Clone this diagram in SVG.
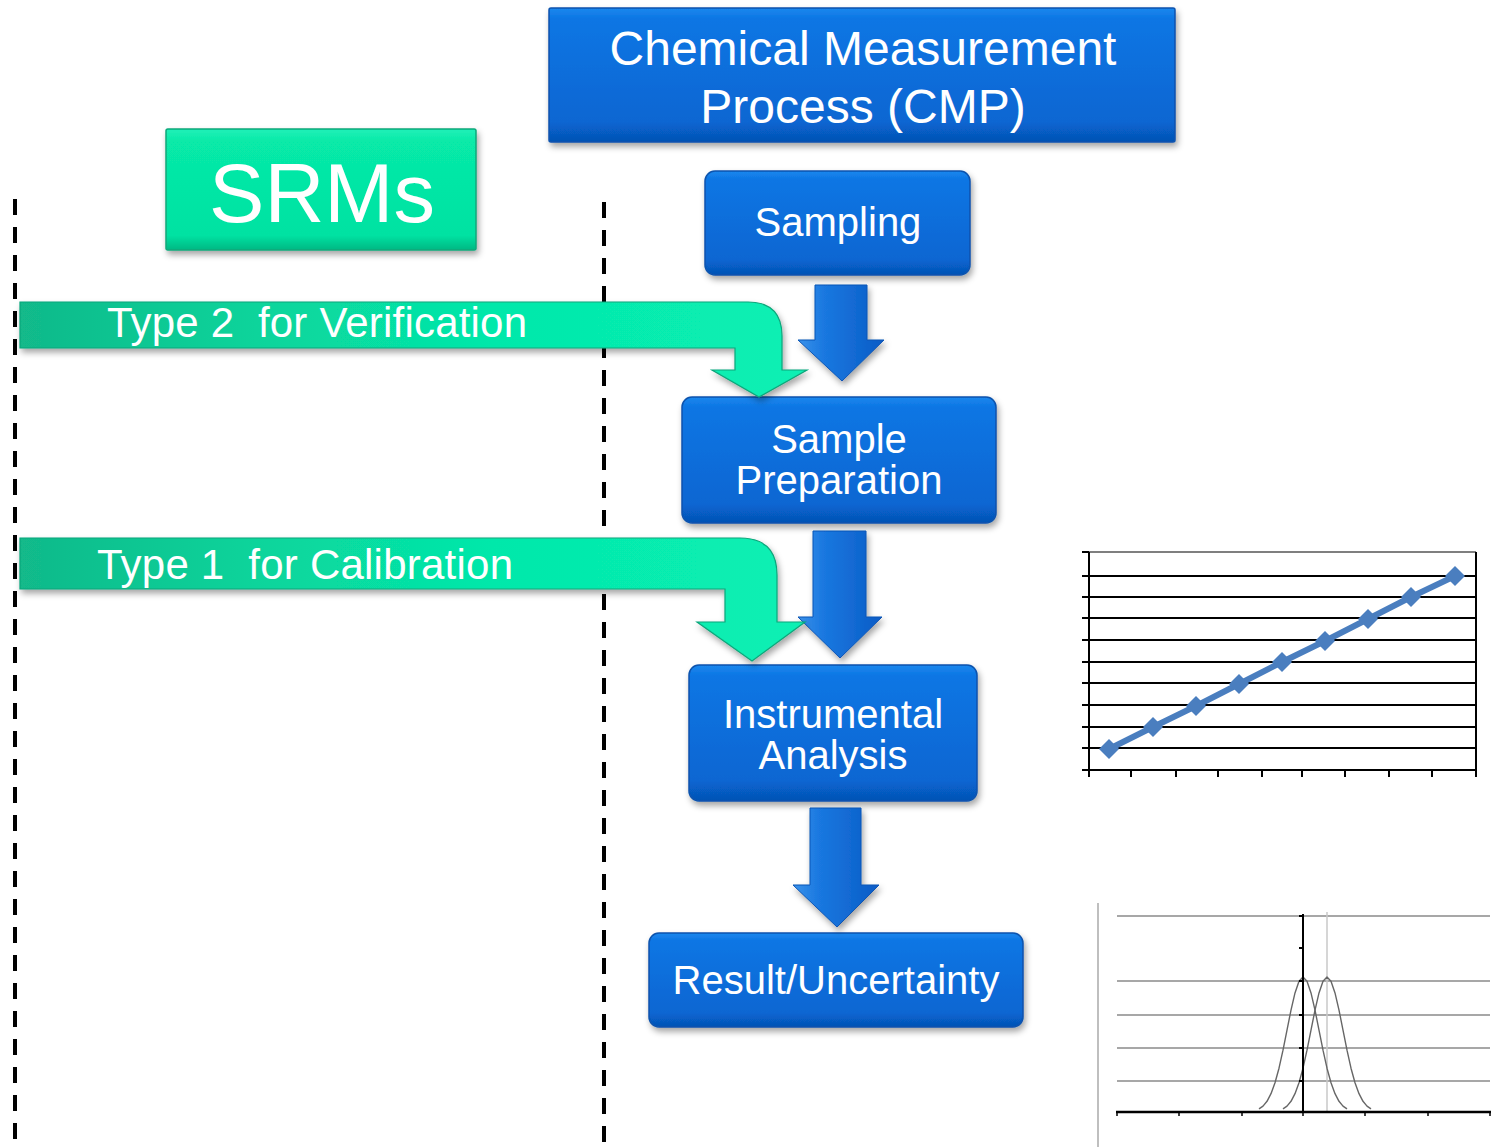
<svg xmlns="http://www.w3.org/2000/svg" width="1494" height="1147" viewBox="0 0 1494 1147">
<style>
.t{font-family:"Liberation Sans",Arial,sans-serif;fill:#ffffff;}
.c{text-anchor:middle;}
.box{stroke:#0b52ad;stroke-width:1.5;filter:url(#sh);}
.dash{stroke:#000;stroke-width:4;stroke-dasharray:16 12;fill:none;}
.grid{stroke:#000;stroke-width:2;}
.g2{stroke:#8a8a8a;stroke-width:1.3;}
</style>
<defs>
<linearGradient id="blue" x1="0" y1="0" x2="0" y2="1">
<stop offset="0" stop-color="#1c88ee"/>
<stop offset="0.08" stop-color="#0c76e4"/>
<stop offset="0.85" stop-color="#0866d2"/>
<stop offset="1" stop-color="#0552b4"/>
</linearGradient>
<linearGradient id="barrow" x1="0" y1="0" x2="1" y2="0">
<stop offset="0" stop-color="#3a92ea"/>
<stop offset="0.3" stop-color="#1a78e0"/>
<stop offset="1" stop-color="#0a5cc6"/>
</linearGradient>
<linearGradient id="green" x1="0" y1="0" x2="0" y2="1">
<stop offset="0" stop-color="#22f0b8"/>
<stop offset="0.1" stop-color="#07eaa8"/>
<stop offset="0.88" stop-color="#03e2a2"/>
<stop offset="1" stop-color="#05b883"/>
</linearGradient>
<linearGradient id="gbar" x1="0" y1="0" x2="1" y2="0">
<stop offset="0" stop-color="#12b98a"/>
<stop offset="0.3" stop-color="#08d49b"/>
<stop offset="0.6" stop-color="#05e8aa"/>
<stop offset="1" stop-color="#08f0b4"/>
</linearGradient>
<filter id="sh" x="-10%" y="-10%" width="125%" height="135%">
<feDropShadow dx="2" dy="4" stdDeviation="3" flood-color="#000" flood-opacity="0.35"/>
</filter>
</defs>
<rect width="1494" height="1147" fill="#ffffff"/>

<g id="dividers">
<line class="dash" x1="15" y1="199" x2="15" y2="1147"/>
<line class="dash" x1="604" y1="202" x2="604" y2="1142"/>
</g>

<g id="srms">
<rect x="166" y="129" width="310" height="121" rx="2" fill="url(#green)" stroke="#0aa87a" stroke-width="1.5" filter="url(#sh)"/>
<text class="t c" x="322" y="222" font-size="83">SRMs</text>
</g>

<g id="cmp">
<rect class="box" x="549" y="8" width="626" height="134" rx="2" fill="url(#blue)"/>
<text class="t c" x="863" y="65" font-size="48">Chemical Measurement</text>
<text class="t c" x="863" y="123" font-size="48">Process (CMP)</text>
</g>

<g id="sampling">
<rect class="box" x="705" y="171" width="265" height="104" rx="10" fill="url(#blue)"/>
<text class="t c" x="838" y="236" font-size="40">Sampling</text>
</g>

<g id="sample-preparation">
<rect class="box" x="682" y="397" width="314" height="126" rx="10" fill="url(#blue)"/>
<text class="t c" x="839" y="453" font-size="40">Sample</text>
<text class="t c" x="839" y="494" font-size="40">Preparation</text>
</g>

<g id="instrumental-analysis">
<rect class="box" x="689" y="665" width="288" height="136" rx="10" fill="url(#blue)"/>
<text class="t c" x="833" y="728" font-size="40">Instrumental</text>
<text class="t c" x="833" y="769" font-size="40">Analysis</text>
</g>

<g id="result-uncertainty">
<rect class="box" x="649" y="933" width="374" height="94" rx="10" fill="url(#blue)"/>
<text class="t c" x="836" y="994" font-size="40">Result/Uncertainty</text>
</g>

<g id="connectors">
<path d="M815,285 H867 V340 H884 L842,381 L798,340 H815 Z" fill="url(#barrow)" stroke="#0a55b5" stroke-width="1" filter="url(#sh)"/>
<path d="M813,531 H866 V617 H882 L840,658 L798,617 H813 Z" fill="url(#barrow)" stroke="#0a55b5" stroke-width="1" filter="url(#sh)"/>
<path d="M810,808 H861 V885 H879 L837,927 L793,885 H810 Z" fill="url(#barrow)" stroke="#0a55b5" stroke-width="1" filter="url(#sh)"/>
<g id="type2-arrow">
<path d="M20,302 H748 Q782,302 782,336 V370 H807 L759,397 L712,370 H735 V348 H20 Z" fill="url(#gbar)" stroke="#0aa57a" stroke-width="1.2" filter="url(#sh)"/>
<text class="t" x="107" y="337" font-size="42" xml:space="preserve" textLength="420" lengthAdjust="spacing">Type 2  for Verification</text>
</g>
<g id="type1-arrow">
<path d="M20,538 H740 Q777,538 777,575 V622 H805 L752,661 L697,622 H725 V589 H20 Z" fill="url(#gbar)" stroke="#0aa57a" stroke-width="1.2" filter="url(#sh)"/>
<text class="t" x="97" y="579" font-size="42" xml:space="preserve" textLength="416" lengthAdjust="spacing">Type 1  for Calibration</text>
</g>
</g>

<g id="calibration-chart">
<line x1="1089" y1="552" x2="1476" y2="552" stroke="#555" stroke-width="1.5"/>
<g class="grid">
<line x1="1082" y1="576" x2="1476" y2="576"/>
<line x1="1082" y1="597" x2="1476" y2="597"/>
<line x1="1082" y1="618" x2="1476" y2="618"/>
<line x1="1082" y1="640" x2="1476" y2="640"/>
<line x1="1082" y1="662" x2="1476" y2="662"/>
<line x1="1082" y1="683" x2="1476" y2="683"/>
<line x1="1082" y1="705" x2="1476" y2="705"/>
<line x1="1082" y1="727" x2="1476" y2="727"/>
<line x1="1082" y1="748" x2="1476" y2="748"/>
<line x1="1082" y1="770" x2="1476" y2="770"/>
<line x1="1082" y1="552" x2="1089" y2="552"/>
<line x1="1089" y1="552" x2="1089" y2="777"/>
<line x1="1476" y1="552" x2="1476" y2="777"/>
<line x1="1131" y1="770" x2="1131" y2="777"/>
<line x1="1176" y1="770" x2="1176" y2="777"/>
<line x1="1218" y1="770" x2="1218" y2="777"/>
<line x1="1262" y1="770" x2="1262" y2="777"/>
<line x1="1302" y1="770" x2="1302" y2="777"/>
<line x1="1345" y1="770" x2="1345" y2="777"/>
<line x1="1389" y1="770" x2="1389" y2="777"/>
<line x1="1432" y1="770" x2="1432" y2="777"/>
</g>
<polyline points="1109,749 1153,727 1196,706 1239,684 1282,662 1325,641 1368,619 1411,597 1455,576" fill="none" stroke="#4a7ebf" stroke-width="6" stroke-linejoin="round"/>
<g fill="#4a7ebf">
<path d="M1109,739 l10,10 l-10,10 l-10,-10 Z"/>
<path d="M1153,717 l10,10 l-10,10 l-10,-10 Z"/>
<path d="M1196,696 l10,10 l-10,10 l-10,-10 Z"/>
<path d="M1239,674 l10,10 l-10,10 l-10,-10 Z"/>
<path d="M1282,652 l10,10 l-10,10 l-10,-10 Z"/>
<path d="M1325,631 l10,10 l-10,10 l-10,-10 Z"/>
<path d="M1368,609 l10,10 l-10,10 l-10,-10 Z"/>
<path d="M1411,587 l10,10 l-10,10 l-10,-10 Z"/>
<path d="M1455,566 l10,10 l-10,10 l-10,-10 Z"/>
</g>
</g>

<g id="uncertainty-chart">
<line x1="1098" y1="903" x2="1098" y2="1147" stroke="#aaa" stroke-width="1.5"/>
<g class="g2">
<line x1="1117" y1="916" x2="1490" y2="916"/>
<line x1="1117" y1="981" x2="1490" y2="981"/>
<line x1="1117" y1="1015" x2="1490" y2="1015"/>
<line x1="1117" y1="1048" x2="1490" y2="1048"/>
<line x1="1117" y1="1081" x2="1490" y2="1081"/>
</g>
<line x1="1327" y1="912" x2="1327" y2="1112" stroke="#c8c8c8" stroke-width="1.5"/>
<polyline points="1259,1108.9 1263,1106.1 1267,1101.3 1271,1093.7 1275,1082.8 1279,1068.2 1283,1050.2 1287,1030.1 1291,1010.1 1295,992.9 1299,981.2 1303,977 1307,981.2 1311,992.9 1315,1010.1 1319,1030.1 1323,1050.2 1327,1068.2 1331,1082.8 1335,1093.7 1339,1101.3 1343,1106.1 1347,1108.9" fill="none" stroke="#666" stroke-width="1.4" stroke-linejoin="round"/>
<polyline points="1283,1108.9 1287,1106.1 1291,1101.3 1295,1093.7 1299,1082.8 1303,1068.2 1307,1050.2 1311,1030.1 1315,1010.1 1319,992.9 1323,981.2 1327,977 1331,981.2 1335,992.9 1339,1010.1 1343,1030.1 1347,1050.2 1351,1068.2 1355,1082.8 1359,1093.7 1363,1101.3 1367,1106.1 1371,1108.9" fill="none" stroke="#666" stroke-width="1.4" stroke-linejoin="round"/>
<g stroke="#000" stroke-width="2">
<line x1="1303" y1="914" x2="1303" y2="1112"/>
<line x1="1299" y1="916" x2="1303" y2="916"/>
<line x1="1299" y1="948" x2="1303" y2="948"/>
<line x1="1299" y1="981" x2="1303" y2="981"/>
<line x1="1299" y1="1015" x2="1303" y2="1015"/>
<line x1="1299" y1="1048" x2="1303" y2="1048"/>
<line x1="1299" y1="1081" x2="1303" y2="1081"/>
</g>
<g stroke="#000" stroke-width="2.5">
<line x1="1116" y1="1112" x2="1491" y2="1112"/>
</g>
<g stroke="#000" stroke-width="1.5">
<line x1="1117" y1="1112" x2="1117" y2="1116"/>
<line x1="1179" y1="1112" x2="1179" y2="1116"/>
<line x1="1242" y1="1112" x2="1242" y2="1116"/>
<line x1="1303" y1="1112" x2="1303" y2="1116"/>
<line x1="1365" y1="1112" x2="1365" y2="1116"/>
<line x1="1428" y1="1112" x2="1428" y2="1116"/>
<line x1="1490" y1="1112" x2="1490" y2="1116"/>
</g>
</g>
</svg>
